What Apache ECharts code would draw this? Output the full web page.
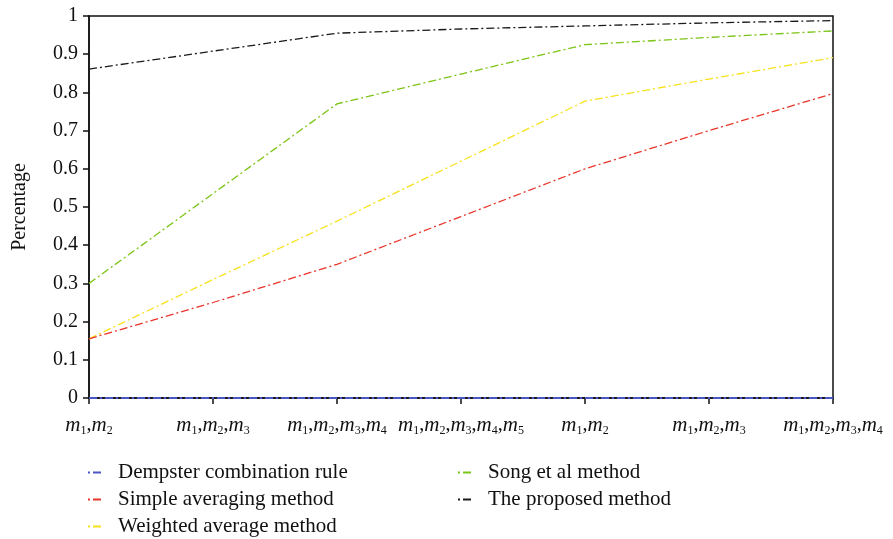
<!DOCTYPE html>
<html>
<head>
<meta charset="utf-8">
<script src="https://cdn.jsdelivr.net/npm/echarts@6/dist/echarts.min.js"></script>
<style>
  html, body { margin: 0; padding: 0; background: #fff; }
  #main { width: 893px; height: 539px; }
</style>
</head>
<body>
<div id="main"></div>
<script>
var categories = ['m1,m2', 'm1,m2,m3', 'm1,m2,m3,m4', 'm1,m2,m3,m4,m5', 'm1,m2', 'm1,m2,m3', 'm1,m2,m3,m4'];
var dempster = [0, 0, 0, 0, 0, 0, 0];
var simpleAvg = [0.155, 0.25, 0.35, 0.475, 0.60, 0.70, 0.797];
var weightedAvg = [0.155, 0.31, 0.463, 0.62, 0.777, 0.835, 0.891];
var songMethod = [0.30, 0.535, 0.77, 0.848, 0.925, 0.944, 0.961];
var proposed = [0.861, 0.908, 0.955, 0.966, 0.974, 0.982, 0.988];

var font = '"Liberation Serif", "DejaVu Serif", serif';
var dash = [8, 3, 2, 3];
// dot + dash mark, with an invisible speck at the right end to leave a gap before the text
var dashIcon = 'path://M0,4h2v2h-2z M5,4h8v2h-8z M24.9,5h0.1v0.1h-0.1z';

var chartDom = document.getElementById('main');
var myChart = echarts.init(chartDom);

function line(name, data, color, z, width) {
    return {
        name: name,
        type: 'line',
        data: data,
        symbol: 'none',
        z: z,
        lineStyle: { color: color, width: width || 1.3, type: dash },
        itemStyle: { color: color }
    };
}

var legendText = { fontFamily: font, fontSize: 21, color: '#111' };

var option = {
    animation: false,
    grid: {
        left: 89, right: 60, top: 16, bottom: 141,
        outerBoundsMode: 'none',
        show: true, borderColor: '#111', borderWidth: 1.5
    },
    xAxis: {
        type: 'category',
        boundaryGap: false,
        data: categories,
        axisLine: { lineStyle: { color: '#111', width: 1.5 } },
        axisTick: { length: 6, lineStyle: { color: '#111', width: 1.5 } },
        axisLabel: {
            margin: 15,
            interval: 0,
            fontFamily: font,
            fontSize: 20,
            color: '#111',
            lineHeight: 24,
            formatter: function (v) {
                return v.replace(/m(\d)/g, '{i|m}{s|$1}');
            },
            rich: {
                i: { fontFamily: font, fontStyle: 'italic', fontSize: 21, color: '#111', lineHeight: 24 },
                s: { fontFamily: font, fontSize: 12, color: '#111', lineHeight: 8, verticalAlign: 'bottom' }
            }
        },
        splitLine: { show: false }
    },
    yAxis: {
        type: 'value',
        min: 0,
        max: 1,
        interval: 0.1,
        name: 'Percentage',
        nameLocation: 'middle',
        nameGap: 59,
        nameTextStyle: { fontFamily: font, fontSize: 20, color: '#111' },
        axisLine: { show: true, lineStyle: { color: '#111', width: 1.5 } },
        axisTick: { show: true, length: 6, lineStyle: { color: '#111', width: 1.5 } },
        axisLabel: {
            margin: 11,
            fontFamily: font,
            fontSize: 20,
            color: '#111',
            formatter: function (v) {
                if (v === 0) return '0';
                if (Math.abs(v - 1) < 1e-9) return '1';
                return v.toFixed(1);
            }
        },
        splitLine: { show: false }
    },
    legend: [
        {
            orient: 'vertical',
            left: 88,
            top: 462,
            height: 90,
            padding: 0,
            itemGap: 6,
            itemWidth: 25,
            itemHeight: 10,
            icon: dashIcon,
            textStyle: legendText,
            data: ['Dempster combination rule', 'Simple averaging method', 'Weighted average method']
        },
        {
            orient: 'vertical',
            left: 458,
            top: 462,
            height: 90,
            padding: 0,
            itemGap: 6,
            itemWidth: 25,
            itemHeight: 10,
            icon: dashIcon,
            textStyle: legendText,
            data: ['Song et al method', 'The proposed method']
        }
    ],
    series: [
        line('Dempster combination rule', dempster, '#4a57c8', 5, 2),
        line('Simple averaging method', simpleAvg, '#e8352b', 4),
        line('Weighted average method', weightedAvg, '#f6e21c', 3),
        line('Song et al method', songMethod, '#7cc415', 2),
        line('The proposed method', proposed, '#1a1a1a', 1)
    ]
};

option && myChart.setOption(option);
</script>
</body>
</html>
